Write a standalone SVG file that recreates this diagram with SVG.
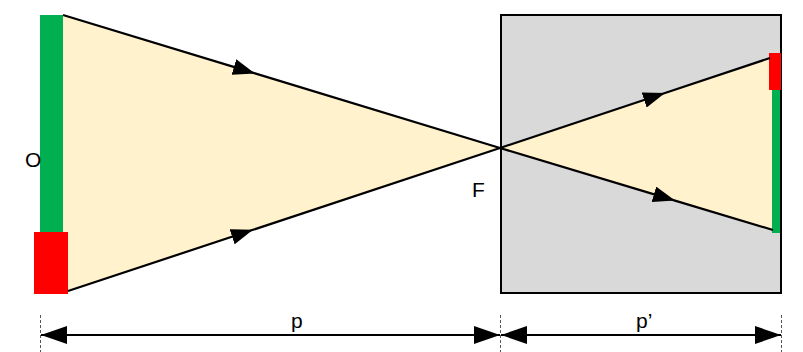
<svg xmlns="http://www.w3.org/2000/svg" width="803" height="352" viewBox="0 0 803 352">
<defs>
<style>
.ray{fill:none;stroke:#000;stroke-width:2.2}
.dim{fill:none;stroke:#000;stroke-width:2}
.ext{stroke:#555;stroke-width:1;stroke-dasharray:3,2}
.lbl{font-family:"Liberation Sans",Arial,sans-serif;font-size:21px;fill:#000}
</style>
<marker id="mid" markerWidth="24" markerHeight="16" refX="22" refY="8" orient="auto" markerUnits="userSpaceOnUse">
<path d="M0,0 L22,8 L0,16 Z" fill="#000"/>
</marker>
<marker id="dh" markerWidth="26" markerHeight="18" refX="26" refY="9" orient="auto-start-reverse" markerUnits="userSpaceOnUse">
<path d="M0,0 L26,9 L0,18 Z" fill="#000"/>
</marker>
</defs>
<g id="camera">
<rect x="501" y="15" width="280" height="278" fill="#D9D9D9" stroke="#000" stroke-width="2"/>
</g>
<g id="cone">
<polygon points="63,15 500,148 68,291 63,291" fill="#FFF2CC"/>
<polygon points="500,148 770,58 776,58 776,230 773,230" fill="#FFF2CC"/>
</g>
<g id="object">
<rect x="40" y="15" width="23" height="218" fill="#00B050"/>
<rect x="34" y="232" width="34" height="62" fill="#FF0000"/>
</g>
<g id="image">
<rect x="772" y="90" width="8" height="143" fill="#00B050"/>
<rect x="769" y="53" width="12" height="37" fill="#FF0000"/>
</g>
<g id="connectors">
<polyline class="ray" points="63,15 255,73.4 500,148" marker-mid="url(#mid)"/>
<polyline class="ray" points="68,291 253,229.8 500,148" marker-mid="url(#mid)"/>
<polyline class="ray" points="500,148 665,93 770,58" marker-mid="url(#mid)"/>
<polyline class="ray" points="500,148 675,200.6 773,230" marker-mid="url(#mid)"/>
<line class="ext" x1="40.5" y1="315" x2="40.5" y2="352"/>
<line class="ext" x1="500.5" y1="315" x2="500.5" y2="352"/>
<line class="ext" x1="781.5" y1="315" x2="781.5" y2="352"/>
<line class="dim" x1="41" y1="335" x2="500" y2="335" marker-start="url(#dh)" marker-end="url(#dh)"/>
<line class="dim" x1="501" y1="335" x2="781" y2="335" marker-start="url(#dh)" marker-end="url(#dh)"/>
</g>
<g id="labels">
<text class="lbl" x="25" y="167">O</text>
<text class="lbl" x="472" y="197">F</text>
<text class="lbl" x="291" y="328">p</text>
<text class="lbl" x="636" y="328">p’</text>
</g>
</svg>
